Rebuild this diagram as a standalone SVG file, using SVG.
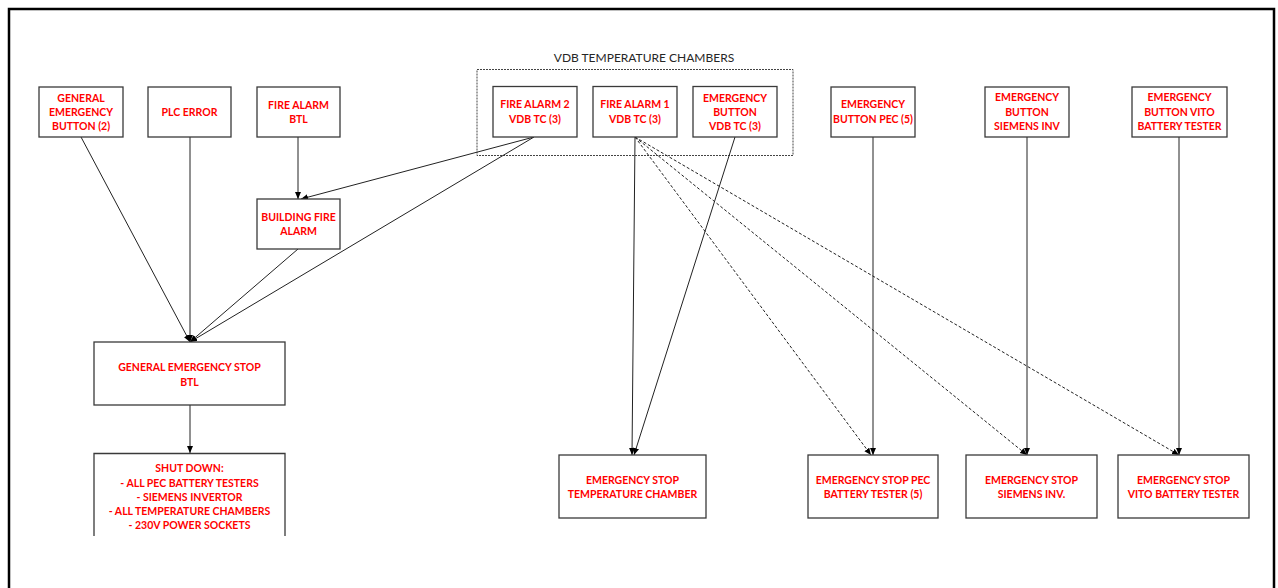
<svg xmlns="http://www.w3.org/2000/svg" width="1278" height="588" viewBox="0 0 1278 588">
<style>
  .box { fill: #ffffff; stroke: #3a3a3a; stroke-width: 1.3; }
  .lbl { font-family: Lato, "Liberation Sans", sans-serif; font-weight: bold; font-size: 10.5px; fill: #ff0000; text-anchor: middle; }
  .title { font-family: Lato, "Liberation Sans", sans-serif; font-size: 12px; fill: #262626; text-anchor: middle; }
  .conn { stroke: #222222; stroke-width: 1; fill: none; marker-end: url(#arrow); }
  .dash { stroke-dasharray: 3 2; }
  .frame { stroke: #000000; stroke-width: 2.5; fill: none; }
</style>
<defs>
  <marker id="arrow" markerUnits="userSpaceOnUse" markerWidth="8" markerHeight="7" refX="7" refY="3" orient="auto">
    <path d="M0,0 L7,3 L0,6 z" fill="#000000"/>
  </marker>
</defs>
<rect width="1278" height="588" fill="#ffffff"/>
<path class="frame" d="M9,588 V9 H1274 V588"/>

<g id="group-vdb">
  <rect x="477" y="69.5" width="316" height="86" fill="none" stroke="#444444" stroke-width="1" stroke-dasharray="2 1"/>
  <text class="title" x="644" y="62">VDB TEMPERATURE CHAMBERS</text>
</g>

<g id="connectors">
  <line class="conn" x1="81" y1="137" x2="190" y2="342"/>
  <line class="conn" x1="190" y1="137" x2="190" y2="342"/>
  <line class="conn" x1="298" y1="137" x2="298" y2="199"/>
  <line class="conn" x1="534" y1="137" x2="301" y2="199"/>
  <line class="conn" x1="298" y1="249" x2="190" y2="342"/>
  <line class="conn" x1="534" y1="137" x2="190" y2="342"/>
  <line class="conn" x1="635" y1="137" x2="632" y2="455"/>
  <line class="conn" x1="735" y1="137" x2="634" y2="455"/>
  <line class="conn dash" x1="635" y1="137" x2="871" y2="455"/>
  <line class="conn dash" x1="635" y1="137" x2="1027" y2="455"/>
  <line class="conn dash" x1="635" y1="137" x2="1179" y2="455"/>
  <line class="conn" x1="873" y1="137" x2="873" y2="455"/>
  <line class="conn" x1="1027" y1="137" x2="1027" y2="455"/>
  <line class="conn" x1="1179" y1="137" x2="1179" y2="455"/>
  <line class="conn" x1="190" y1="405" x2="190" y2="453"/>
</g>

<g id="general-emergency-button">
  <rect class="box" x="39" y="87" width="84" height="50"/>
  <text class="lbl" x="81" y="101.5">GENERAL</text>
  <text class="lbl" x="81" y="115.5">EMERGENCY</text>
  <text class="lbl" x="81" y="129.8">BUTTON (2)</text>
</g>
<g id="plc-error">
  <rect class="box" x="148" y="87" width="83" height="50"/>
  <text class="lbl" x="189.5" y="115.5">PLC ERROR</text>
</g>
<g id="fire-alarm-btl">
  <rect class="box" x="257" y="87" width="83" height="50"/>
  <text class="lbl" x="298.5" y="108.5">FIRE ALARM</text>
  <text class="lbl" x="298.5" y="122.8">BTL</text>
</g>
<g id="building-fire-alarm">
  <rect class="box" x="257" y="199" width="83" height="50"/>
  <text class="lbl" x="298.5" y="221.1">BUILDING FIRE</text>
  <text class="lbl" x="298.5" y="235.1">ALARM</text>
</g>
<g id="fire-alarm-2">
  <rect class="box" x="493" y="86.5" width="84" height="50.5"/>
  <text class="lbl" x="535" y="108.1">FIRE ALARM 2</text>
  <text class="lbl" x="535" y="122.8">VDB TC (3)</text>
</g>
<g id="fire-alarm-1">
  <rect class="box" x="593" y="86.5" width="84" height="50.5"/>
  <text class="lbl" x="635" y="108.1">FIRE ALARM 1</text>
  <text class="lbl" x="635" y="122.8">VDB TC (3)</text>
</g>
<g id="emergency-button-vdb">
  <rect class="box" x="693" y="86.5" width="84" height="50.5"/>
  <text class="lbl" x="735" y="101.5">EMERGENCY</text>
  <text class="lbl" x="735" y="115.5">BUTTON</text>
  <text class="lbl" x="735" y="129.8">VDB TC (3)</text>
</g>
<g id="emergency-button-pec">
  <rect class="box" x="831" y="87" width="84" height="50"/>
  <text class="lbl" x="873" y="108.1">EMERGENCY</text>
  <text class="lbl" x="873" y="122.8">BUTTON PEC (5)</text>
</g>
<g id="emergency-button-siemens">
  <rect class="box" x="985" y="87" width="84" height="50"/>
  <text class="lbl" x="1027" y="101.1">EMERGENCY</text>
  <text class="lbl" x="1027" y="115.5">BUTTON</text>
  <text class="lbl" x="1027" y="129.5">SIEMENS INV</text>
</g>
<g id="emergency-button-vito">
  <rect class="box" x="1132" y="87" width="95" height="50"/>
  <text class="lbl" x="1179.5" y="101.1">EMERGENCY</text>
  <text class="lbl" x="1179.5" y="115.5">BUTTON VITO</text>
  <text class="lbl" x="1179.5" y="129.5">BATTERY TESTER</text>
</g>
<g id="general-emergency-stop">
  <rect class="box" x="94" y="342" width="191" height="63"/>
  <text class="lbl" x="189.5" y="370.8">GENERAL EMERGENCY STOP</text>
  <text class="lbl" x="189.5" y="385.5">BTL</text>
</g>
<g id="shut-down">
  <path class="box" d="M94,536 V453.5 H285 V536" fill="#ffffff"/>
  <text class="lbl" x="189.5" y="471.8">SHUT DOWN:</text>
  <text class="lbl" x="189.5" y="486.5">- ALL PEC BATTERY TESTERS</text>
  <text class="lbl" x="189.5" y="500.5">- SIEMENS INVERTOR</text>
  <text class="lbl" x="189.5" y="514.8">- ALL TEMPERATURE CHAMBERS</text>
  <text class="lbl" x="189.5" y="528.8">- 230V POWER SOCKETS</text>
</g>
<g id="stop-temperature-chamber">
  <rect class="box" x="559" y="455" width="147" height="63"/>
  <text class="lbl" x="632.5" y="483.8">EMERGENCY STOP</text>
  <text class="lbl" x="632.5" y="497.8">TEMPERATURE CHAMBER</text>
</g>
<g id="stop-pec">
  <rect class="box" x="808" y="455" width="130" height="63"/>
  <text class="lbl" x="873" y="483.8">EMERGENCY STOP PEC</text>
  <text class="lbl" x="873" y="497.8">BATTERY TESTER (5)</text>
</g>
<g id="stop-siemens">
  <rect class="box" x="966" y="455" width="131" height="63"/>
  <text class="lbl" x="1031.5" y="483.8">EMERGENCY STOP</text>
  <text class="lbl" x="1031.5" y="497.8">SIEMENS INV.</text>
</g>
<g id="stop-vito">
  <rect class="box" x="1118" y="455" width="131" height="63"/>
  <text class="lbl" x="1183.5" y="483.8">EMERGENCY STOP</text>
  <text class="lbl" x="1183.5" y="497.8">VITO BATTERY TESTER</text>
</g>
</svg>
